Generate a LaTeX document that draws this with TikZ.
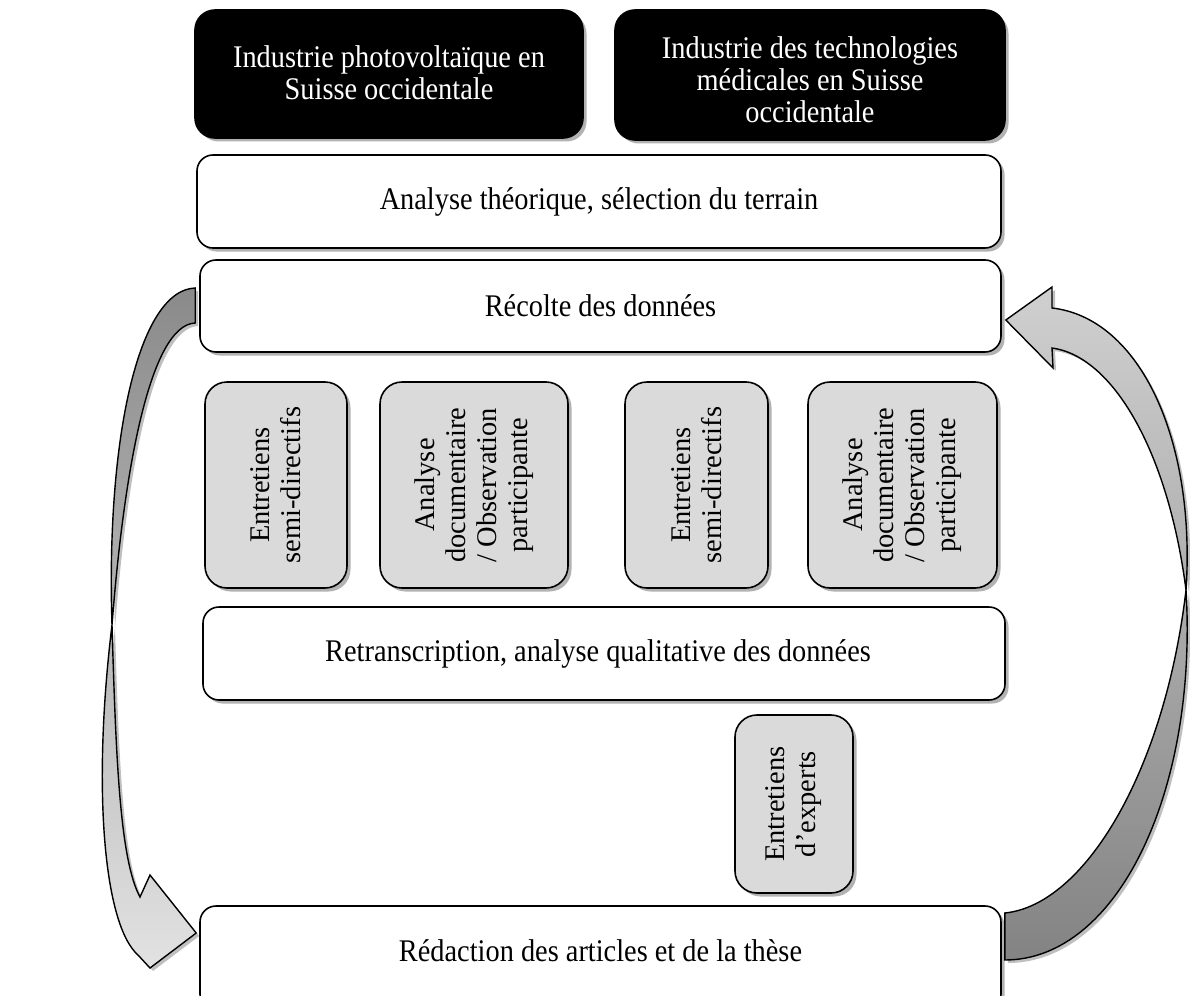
\documentclass[tikz,border=0pt]{standalone}
\usepackage{fontspec}
\setmainfont{Liberation Serif}
\newfontfamily\tallserif[FakeStretch=0.9]{Liberation Serif}
\usetikzlibrary{calc,shadows,backgrounds}

\definecolor{boxgray}{HTML}{DADADA}
\definecolor{arrowdark}{HTML}{8A8A8A}
\definecolor{arrowlight}{HTML}{E2E2E2}

\newcommand{\lowerby}[2]{\raisebox{-#1}[\height][\depth]{\begin{tabular}{@{}c@{}}#2\end{tabular}}}

\tikzset{
  softshadow/.style={drop shadow={shadow xshift=3.5pt, shadow yshift=-3.5pt, opacity=0.3, fill=black}},
  basebox/.style={draw=black, line width=1.6pt, inner sep=4pt, align=center, softshadow},
  blackbox/.style={basebox, fill=black, text=white, rounded corners=20pt,
    font=\tallserif\fontsize{31.5}{32}\selectfont},
  whitebox/.style={basebox, fill=white, rounded corners=16pt,
    font=\tallserif\fontsize{31.5}{32}\selectfont},
  graybox/.style={basebox, fill=boxgray, rounded corners=22pt, rotate=90,
    font=\fontsize{28.5}{31}\selectfont},
  loopband/.style={draw=black, line width=1.4pt, line join=miter,
    drop shadow={shadow xshift=3pt, shadow yshift=-3pt, opacity=0.25, fill=black}},
}

\begin{document}
\begin{tikzpicture}[x=1pt,y=-1pt]
\useasboundingbox (0,0) rectangle (1190,995);

% Top: the two industries studied
\node[blackbox, minimum width=388pt, minimum height=128pt] (pv) at (389,74)
  {\lowerby{3pt}{Industrie photovoltaïque en\\Suisse occidentale}};
\node[blackbox, minimum width=390pt, minimum height=130pt] (med) at (810,75)
  {\lowerby{9pt}{Industrie des technologies\\médicales en Suisse\\occidentale}};

% Main research phases
\node[whitebox, minimum width=804pt, minimum height=93pt] (theo) at (599,201.5)
  {Analyse théorique, sélection du terrain};
\node[whitebox, minimum width=801pt, minimum height=92pt] (recolte) at (600.5,306)
  {Récolte des données};

% Data collection methods (vertical text)
\node[graybox, minimum width=206pt, minimum height=142pt] (ent1) at (276,485)
  {Entretiens\\semi-directifs};
\node[graybox, minimum width=206pt, minimum height=188pt] (doc1) at (474,485)
  {Analyse\\documentaire\\/ Observation\\participante};
\node[graybox, minimum width=206pt, minimum height=143pt] (ent2) at (696.5,485)
  {Entretiens\\semi-directifs};
\node[graybox, minimum width=206pt, minimum height=189pt] (doc2) at (902.5,485)
  {Analyse\\documentaire\\/ Observation\\participante};

\node[whitebox, minimum width=802pt, minimum height=93pt] (retrans) at (604,653.5)
  {Retranscription, analyse qualitative des données\hspace*{12pt}};

\node[graybox, minimum width=178pt, minimum height=118pt] (experts) at (794,804)
  {Entretiens\\d’experts};

% Last phase: the box runs past the lower edge of the page
\node[whitebox, minimum width=801pt, minimum height=104pt] (redac) at (600.5,958)
  {\lowerby{-3pt}{Rédaction des articles et de la thèse}};

% Iteration loops, drawn beneath the boxes
\begin{pgfonlayer}{background}
  % left loop: from data collection down to writing
  \coordinate (lt1) at ($(recolte.west)+(-4,-18)$);
  \coordinate (lt2) at ($(recolte.west)+(-4,17)$);
  \coordinate (ltip) at ($(redac.west)+(-3,-25)$);
  \path[loopband, top color=arrowdark, bottom color=arrowlight]
    (lt1) .. controls (138,290) and (106,440) .. (112,625)
          .. controls (116,760) and (120,860) .. (140,897)
    -- (150,875) -- (ltip) -- (150,968) -- (138,955)
          .. controls (104,925) and (92,790) .. (112,625)
          .. controls (124,470) and (150,325) .. (lt2) -- cycle;

  % right loop: from writing back up to data collection
  \coordinate (rt1) at ($(redac.east)+(3,-45)$);
  \coordinate (rt2) at ($(redac.east)+(3,2)$);
  \coordinate (rtip) at ($(recolte.east)+(4,14)$);
  \path[loopband, top color=arrowlight!92!black, bottom color=arrowdark!95!black]
    (rt1) .. controls (1085,905) and (1165,770) .. (1186,590)
          .. controls (1196,440) and (1140,318) .. (1052,308)
    -- (1052,287) -- (rtip) -- (1053,368) -- (1052,348)
          .. controls (1112,356) and (1168,450) .. (1186,590)
          .. controls (1198,790) and (1118,960) .. (rt2) -- cycle;
\end{pgfonlayer}
\end{tikzpicture}
\end{document}
